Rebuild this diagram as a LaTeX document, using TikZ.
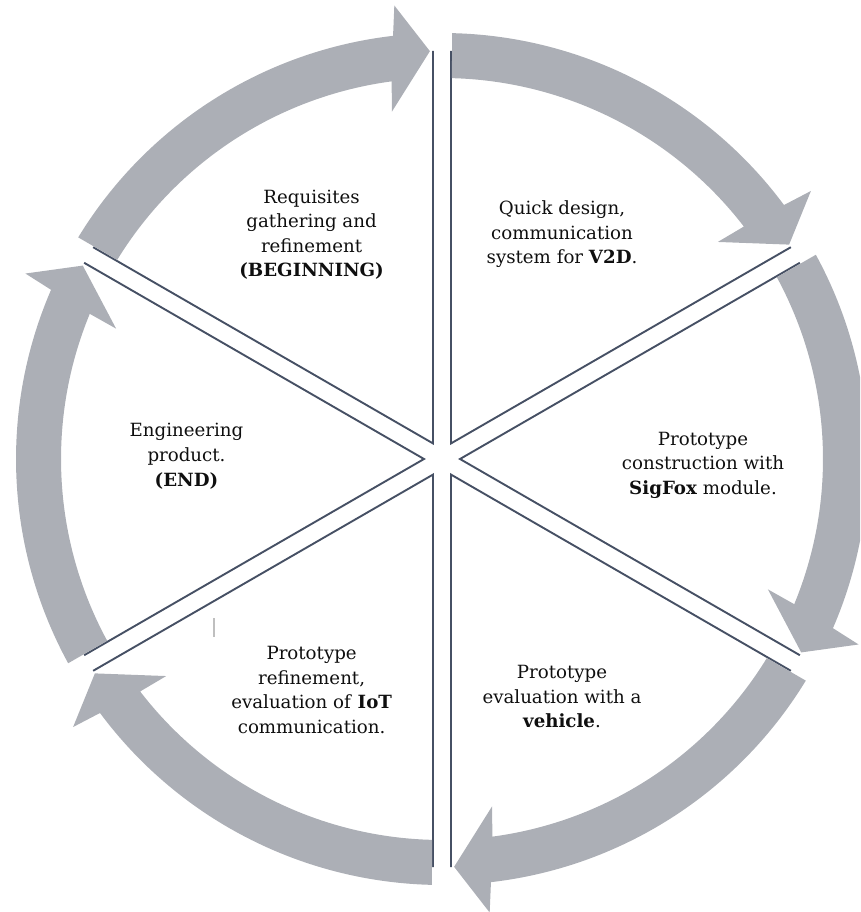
\documentclass[tikz,border=0pt]{standalone}
\usepackage{fontspec}
\setmainfont{DejaVu Serif}
\usetikzlibrary{calc}
\definecolor{arrowgrey}{RGB}{172,175,182}
\definecolor{divline}{RGB}{70,80,100}
\definecolor{txt}{RGB}{15,15,15}
\begin{document}
\begin{tikzpicture}[x=1pt,y=1pt,
  arrowband/.style={fill=arrowgrey},
  divider/.style={draw=divline,line width=1.9pt,line join=miter},
  label/.style={align=center,inner sep=0pt,text=txt,font=\fontsize{18.2}{24.6}\selectfont},
  stray/.style={draw=black!25,line width=1.2pt}]
\useasboundingbox (0,0) rectangle (860,-912);
\clip (0,0) rectangle (860,-912);
\coordinate (C) at (442,-459);
% sector boundaries (double lines)
\foreach \m in {60,0,-60,-120,180,120}{
  \pgfmathsetmacro\ea{\m+30}\pgfmathsetmacro\na{\m-60}
  \pgfmathsetmacro\eb{\m-30}\pgfmathsetmacro\nb{\m+60}
  \draw[divider] ($(C)+(\ea:408)+(\na:9)$) -- ($(C)+(\m:18)$) -- ($(C)+(\eb:408)+(\nb:9)$);
}
% circular arrows (clockwise)
\foreach \a in {90,30,-30,-90,-150,-210}{
  \pgfmathsetmacro\b{\a-60}
  \pgfmathsetmacro\tout{\a-1.35}\pgfmathsetmacro\tin{\a-1.5}
  \pgfmathsetmacro\so{\b+6.6}\pgfmathsetmacro\si{\b+7.6}
  \pgfmathsetmacro\ho{\b+6}\pgfmathsetmacro\hi{\b+8.2}
  \pgfmathsetmacro\tip{\b+1.7}
  \fill[arrowband] ($(C)+(\tout:426)$) arc[start angle=\tout,end angle=\so,radius=426pt]
    -- ($(C)+(\ho:456)$) -- ($(C)+(\tip:408)$) -- ($(C)+(\hi:351)$)
    -- ($(C)+(\si:381)$) arc[start angle=\si,end angle=\tin,radius=381pt] -- cycle;
}
\node[label] (t1) at (311.6,-234.8) {Requisites\\gathering and\\refinement\\\textbf{(BEGINNING)}};
\node[label] (t2) at (562,-234.2) {Quick design,\\communication\\system for \textbf{V2D}.};
\node[label] (t3) at (703,-465.2) {Prototype\\construction with\\\textbf{SigFox} module.};
\node[label] (t4) at (562,-696.5) {Prototype\\evaluation with a\\\textbf{vehicle}.};
\node[label] (t5) at (311.6,-690) {Prototype\\refinement,\\evaluation of \textbf{IoT}\\communication.};
\node[label] (t6) at (186.5,-456.2) {Engineering\\product.\\\textbf{(END)}};
\coordinate (s1) at (214,-618);
\coordinate (s2) at (214,-637);
\draw[stray] (s1) -- (s2);
\end{tikzpicture}
\end{document}
